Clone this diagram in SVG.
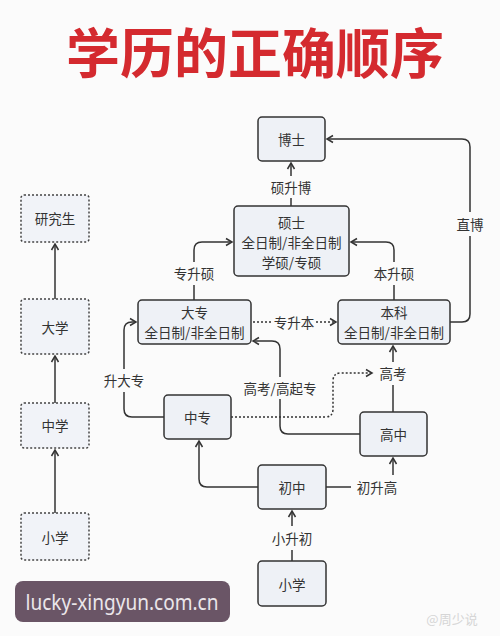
<svg xmlns="http://www.w3.org/2000/svg" width="500" height="636" viewBox="0 0 500 636">
<defs>
<style>
text{font-family:"Noto Sans CJK SC","Noto Sans",sans-serif;fill:#333;font-size:13.5px;text-anchor:middle;dominant-baseline:central}
.title{font-size:54px;font-weight:bold;fill:#d42a2f}
.box{fill:#eef1f6;stroke:#333;stroke-width:1.5}
.dbox{fill:#f1f3f8;stroke:#444;stroke-width:1.5;stroke-dasharray:2 2}
.ln{fill:none;stroke:#333;stroke-width:1.5}
.dot{fill:none;stroke:#333;stroke-width:1.5;stroke-dasharray:2 2}
.arr{marker-end:url(#arr)}
</style>
<marker id="arr" viewBox="-8 -5 10 10" refX="0" refY="0" markerWidth="10" markerHeight="10" markerUnits="userSpaceOnUse" orient="auto">
<path d="M-6,-3.5 L0,0 L-6,3.5" fill="none" stroke="#333" stroke-width="1.5"/>
</marker>
</defs>
<rect width="500" height="636" fill="#fbfbfb"/>
<text class="title" x="255" y="50">学历的正确顺序</text>

<g id="connectors">
<!-- left column -->
<path class="ln arr" d="M55,299 V244"/>
<path class="ln arr" d="M55,403 V356"/>
<path class="ln arr" d="M55,513 V450"/>
<!-- 硕升博 -->
<path class="ln" d="M291,206 V198"/>
<path class="ln arr" d="M291,176 V163"/>
<text x="291" y="187">硕升博</text>
<!-- 直博 -->
<path class="ln" d="M450,322 H462 Q470,322 470,314 V236"/>
<path class="ln arr" d="M470,212 V147 Q470,139 462,139 H327"/>
<text x="470" y="224">直博</text>
<!-- 专升硕 -->
<path class="ln" d="M194,300 V285"/>
<path class="ln arr" d="M194,262 V250 Q194,242 202,242 H232"/>
<text x="194" y="273">专升硕</text>
<!-- 本升硕 -->
<path class="ln" d="M394,300 V285"/>
<path class="ln arr" d="M394,262 V250 Q394,242 386,242 H351"/>
<text x="394" y="273">本升硕</text>
<!-- 专升本 -->
<path class="dot" d="M253,322 H272"/>
<path class="dot arr" d="M316,322 H336"/>
<text x="294" y="322">专升本</text>
<!-- 升大专 -->
<path class="ln" d="M164,417 H132 Q124,417 124,409 V392"/>
<path class="ln arr" d="M124,369 V330 Q124,322 132,322 H136"/>
<text x="124" y="380">升大专</text>
<!-- 高考/高起专 -->
<path class="ln" d="M360,434 H288 Q280,434 280,426 V399"/>
<path class="ln arr" d="M280,377 V349 Q280,341 272,341 H253"/>
<text x="280" y="388">高考/高起专</text>
<!-- 中专 高考 dotted -->
<path class="dot arr" d="M231,417 H325 Q333,417 333,409 V381 Q333,373 341,373 H372"/>
<!-- 高中 高考 -->
<path class="ln" d="M393,412 V385"/>
<path class="ln arr" d="M393,362 V346"/>
<text x="393" y="373">高考</text>
<!-- 初中 → 中专 -->
<path class="ln arr" d="M258,487 H207 Q199,487 199,479 V441"/>
<!-- 初升高 -->
<path class="ln" d="M326,487 H351"/>
<path class="ln arr" d="M393,475 V458"/>
<text x="377" y="487">初升高</text>
<!-- 小升初 -->
<path class="ln" d="M292,561 V550"/>
<path class="ln arr" d="M292,526 V511"/>
<text x="292" y="538">小升初</text>
</g>

<g id="n-yjs"><rect class="dbox" x="21" y="195" width="68" height="47" rx="3"/><text x="55" y="218">研究生</text></g>
<g id="n-dx"><rect class="dbox" x="21" y="299" width="68" height="55" rx="3"/><text x="55" y="327">大学</text></g>
<g id="n-zx"><rect class="dbox" x="21" y="403" width="68" height="45" rx="3"/><text x="55" y="425">中学</text></g>
<g id="n-xx-l"><rect class="dbox" x="21" y="513" width="68" height="47" rx="3"/><text x="55" y="537">小学</text></g>

<g id="n-bs"><rect class="box" x="258" y="117" width="67" height="44" rx="4"/><text x="291.5" y="139">博士</text></g>
<g id="n-ss"><rect class="box" x="234" y="206" width="115" height="70" rx="4"/><text x="291.5" y="222">硕士</text><text x="291.5" y="242">全日制/非全日制</text><text x="291.5" y="262">学硕/专硕</text></g>
<g id="n-dz"><rect class="box" x="138" y="300" width="113" height="44" rx="4"/><text x="194.5" y="312">大专</text><text x="194.5" y="332">全日制/非全日制</text></g>
<g id="n-bk"><rect class="box" x="338" y="300" width="112" height="44" rx="4"/><text x="394" y="312">本科</text><text x="394" y="332">全日制/非全日制</text></g>
<g id="n-zz"><rect class="box" x="164" y="395" width="67" height="44" rx="4"/><text x="197.5" y="417">中专</text></g>
<g id="n-gz"><rect class="box" x="360" y="412" width="67" height="44" rx="4"/><text x="393.5" y="434">高中</text></g>
<g id="n-cz"><rect class="box" x="258" y="465" width="68" height="44" rx="4"/><text x="292" y="487">初中</text></g>
<g id="n-xx"><rect class="box" x="258" y="561" width="68" height="45" rx="4"/><text x="292" y="583.5">小学</text></g>

<g id="watermark">
<rect x="15" y="581" width="215" height="41" rx="8" fill="#6a5566"/>
<text x="122" y="610" style="font-family:'Noto Sans','Open Sans',sans-serif;font-size:22px;fill:#ebe6ea;dominant-baseline:auto" textLength="193" lengthAdjust="spacingAndGlyphs">lucky-xingyun.com.cn</text>
<text x="452" y="618" style="font-size:13px;fill:#d6d6d6">@周少说</text>
</g>
</svg>
